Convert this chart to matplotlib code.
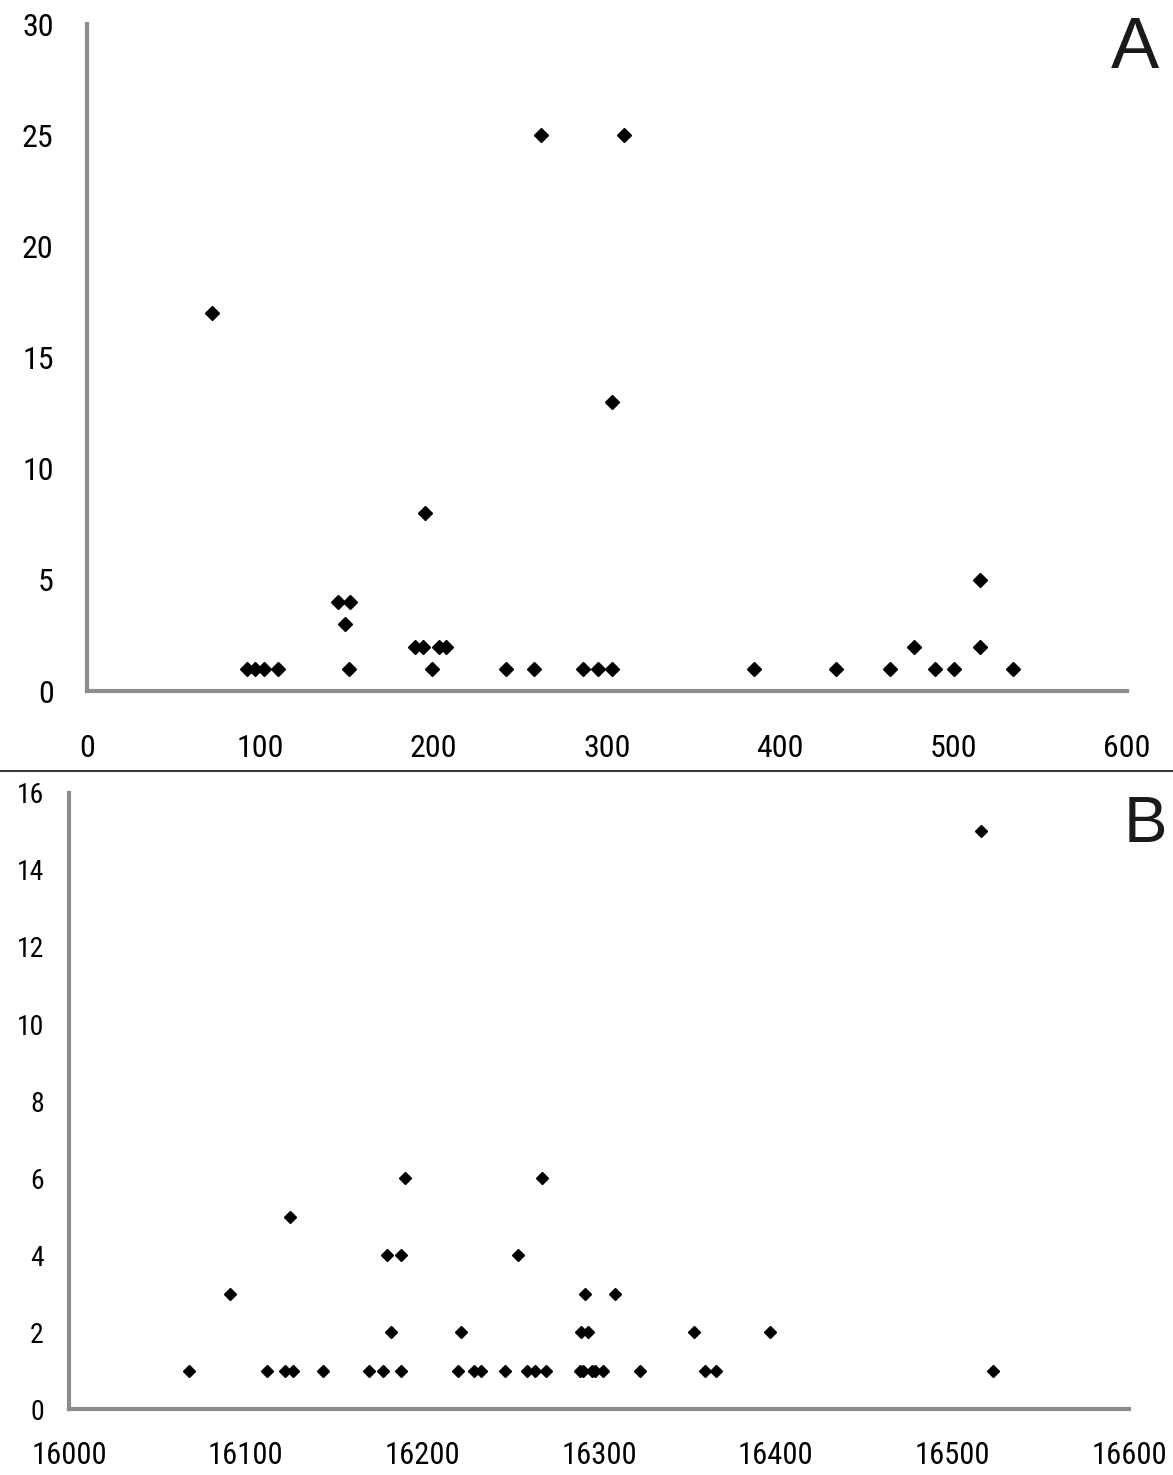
import matplotlib
matplotlib.use("Agg")
import matplotlib.pyplot as plt
from matplotlib.lines import Line2D
from matplotlib import font_manager

# panel A data
a_x = [72, 262, 310, 303, 195, 515, 145, 152, 149,
       92, 97, 102, 110, 151, 199, 242, 258, 286, 295, 303,
       385, 432, 463, 489, 500, 534,
       189, 194, 203, 207, 477, 515]
a_y = [17, 25, 25, 13, 8, 5, 4, 4, 3,
       1, 1, 1, 1, 1, 1, 1, 1, 1, 1, 1,
       1, 1, 1, 1, 1, 1,
       2, 2, 2, 2, 2, 2]
a_xticks = [0, 100, 200, 300, 400, 500, 600]
a_yticks = [0, 5, 10, 15, 20, 25, 30]

# panel B data
b_x = [16068, 16112, 16122, 16127, 16144, 16170, 16178, 16188, 16220, 16229,
       16233, 16247, 16259, 16264, 16270, 16289, 16291, 16296, 16298, 16302,
       16323, 16360, 16366, 16523,
       16182, 16222, 16290, 16294, 16354, 16397,
       16091, 16292, 16309,
       16180, 16188, 16254,
       16125,
       16190, 16268,
       16516]
b_y = [1] * 24 + [2] * 6 + [3] * 3 + [4] * 3 + [5] + [6] * 2 + [15]
b_xticks = [16000, 16100, 16200, 16300, 16400, 16500, 16600]
b_yticks = [0, 2, 4, 6, 8, 10, 12, 14, 16]

SPINE = "#8a8d90"

# look for a narrow face for the tick labels
names = {f.name for f in font_manager.fontManager.ttflist}
narrow = [n for n in ("Liberation Sans Narrow", "Roboto Condensed",
                      "Open Sans Condensed") if n in names]
TICK_FONT = narrow[0] if narrow else "DejaVu Sans"

fig = plt.figure(figsize=(11.73, 14.75), dpi=100)

ax_a = fig.add_axes([0.0742, 0.5315, 0.8866, 0.4522])
ax_b = fig.add_axes([0.0588, 0.0447, 0.9037, 0.4177])


def style(ax, xticks, yticks, xsize, ysize, xpad, ypad):
    for side in ("top", "right"):
        ax.spines[side].set_visible(False)
    for side in ("left", "bottom"):
        ax.spines[side].set_color(SPINE)
        ax.spines[side].set_linewidth(3)
    ax.set_xticks(xticks)
    ax.set_yticks(yticks)
    ax.set_xlim(xticks[0], xticks[-1])
    ax.set_ylim(yticks[0], yticks[-1])
    ax.tick_params(axis="both", length=0, colors="black")
    ax.tick_params(axis="x", pad=xpad)
    ax.tick_params(axis="y", pad=ypad)
    for lab in ax.get_xticklabels():
        lab.set_family(TICK_FONT)
        lab.set_stretch("condensed")
        lab.set_fontsize(xsize)
    for lab in ax.get_yticklabels():
        lab.set_family(TICK_FONT)
        lab.set_stretch("condensed")
        lab.set_fontsize(ysize)
    for sp in ax.spines.values():
        sp.set_clip_on(False)


style(ax_a, a_xticks, a_yticks, 23, 23, 31, 24)
style(ax_b, b_xticks, b_yticks, 22, 20, 23, 18)

ax_a.plot(a_x, a_y, linestyle="none", marker="D", markersize=7.5,
          color="black", clip_on=False)
ax_b.plot(b_x, b_y, linestyle="none", marker="D", markersize=6.5,
          color="black", clip_on=False)

# separator between the panels
fig.add_artist(Line2D([0, 1], [1 - 771 / 1475] * 2, transform=fig.transFigure,
                      color="#3a3a3a", linewidth=1.5))

fig.text(0.947, 0.954, "A", fontsize=52, family="Liberation Sans",
         color="#1a1a1a", ha="left", va="baseline")
fig.text(0.958, 0.4292, "B", fontsize=47, family="Liberation Sans",
         color="#1a1a1a", ha="left", va="baseline")

fig.savefig("out.png", dpi=100)
